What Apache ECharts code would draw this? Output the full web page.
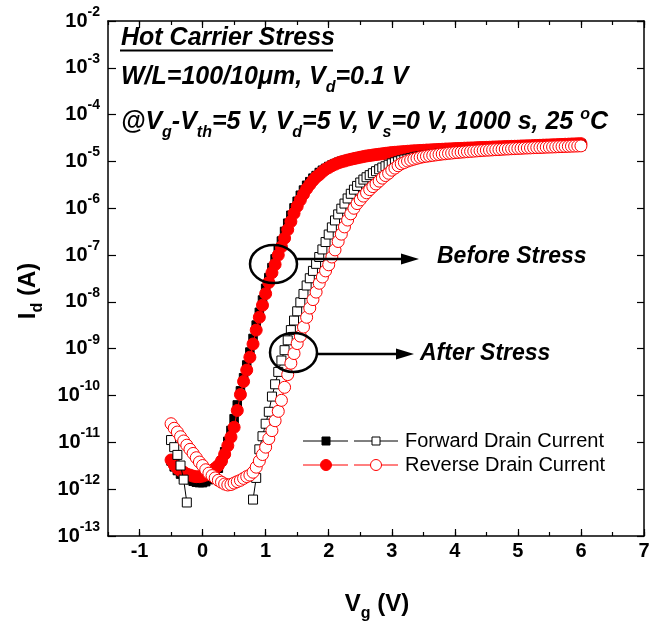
<!DOCTYPE html>
<html>
<head>
<meta charset="utf-8">
<script src="https://cdn.jsdelivr.net/npm/echarts@6/dist/echarts.min.js"></script>
<style>
  html, body { margin: 0; padding: 0; background: #ffffff; }
  #chart { width: 653px; height: 624px; }
</style>
</head>
<body>
<div id="chart"></div>
<script>
// Gate voltage sweep (V)
const gateVoltage = [
  -0.5, -0.45, -0.4, -0.35, -0.3, -0.25, -0.2, -0.15, -0.1, -0.05,
  0, 0.05, 0.1, 0.15, 0.2, 0.25, 0.3, 0.35, 0.4, 0.45,
  0.5, 0.55, 0.6, 0.65, 0.7, 0.75, 0.8, 0.85, 0.9, 0.95,
  1, 1.05, 1.1, 1.15, 1.2, 1.25, 1.3, 1.35, 1.4, 1.45,
  1.5, 1.55, 1.6, 1.65, 1.7, 1.75, 1.8, 1.85, 1.9, 1.95,
  2, 2.05, 2.1, 2.15, 2.2, 2.25, 2.3, 2.35, 2.4, 2.45,
  2.5, 2.55, 2.6, 2.65, 2.7, 2.75, 2.8, 2.85, 2.9, 2.95,
  3, 3.05, 3.1, 3.15, 3.2, 3.25, 3.3, 3.35, 3.4, 3.45,
  3.5, 3.55, 3.6, 3.65, 3.7, 3.75, 3.8, 3.85, 3.9, 3.95,
  4, 4.05, 4.1, 4.15, 4.2, 4.25, 4.3, 4.35, 4.4, 4.45,
  4.5, 4.55, 4.6, 4.65, 4.7, 4.75, 4.8, 4.85, 4.9, 4.95,
  5, 5.05, 5.1, 5.15, 5.2, 5.25, 5.3, 5.35, 5.4, 5.45,
  5.5, 5.55, 5.6, 5.65, 5.7, 5.75, 5.8, 5.85, 5.9, 5.95,
  6
];

// Drain current (A) before stress, forward sweep
const beforeForward = [
  4.0e-12, 3.0e-12, 2.5e-12, 2.1e-12, 1.86e-12, 1.7e-12, 1.6e-12, 1.48e-12, 1.41e-12, 1.38e-12,
  1.38e-12, 1.45e-12, 1.6e-12, 1.8e-12, 2.2e-12, 2.8e-12, 4.0e-12, 6.3e-12, 1.05e-11, 1.8e-11,
  3.2e-11, 6.3e-11, 1.26e-10, 2.4e-10, 4.5e-10, 8.5e-10, 1.66e-9, 3.2e-9, 6.0e-9, 1.1e-8,
  1.95e-8, 3.3e-8, 5.4e-8, 8.3e-8, 1.32e-7, 2.0e-7, 3.2e-7, 4.8e-7, 7.1e-7, 1.02e-6,
  1.41e-6, 1.9e-6, 2.45e-6, 3.1e-6, 3.7e-6, 4.4e-6, 5.0e-6, 5.8e-6, 6.5e-6, 7.1e-6,
  7.8e-6, 8.4e-6, 9.0e-6, 9.6e-6, 1.01e-5, 1.05e-5, 1.10e-5, 1.14e-5, 1.18e-5, 1.22e-5,
  1.26e-5, 1.30e-5, 1.33e-5, 1.36e-5, 1.39e-5, 1.42e-5, 1.45e-5, 1.48e-5, 1.51e-5, 1.54e-5,
  1.56e-5, 1.58e-5, 1.60e-5, 1.62e-5, 1.64e-5, 1.66e-5, 1.68e-5, 1.70e-5, 1.71e-5, 1.73e-5,
  1.74e-5, 1.76e-5, 1.77e-5, 1.79e-5, 1.80e-5, 1.82e-5, 1.83e-5, 1.85e-5, 1.86e-5, 1.87e-5,
  1.89e-5, 1.90e-5, 1.91e-5, 1.93e-5, 1.94e-5, 1.95e-5, 1.96e-5, 1.98e-5, 1.99e-5, 2.00e-5,
  2.01e-5, 2.02e-5, 2.04e-5, 2.05e-5, 2.06e-5, 2.07e-5, 2.09e-5, 2.10e-5, 2.11e-5, 2.12e-5,
  2.13e-5, 2.15e-5, 2.16e-5, 2.17e-5, 2.18e-5, 2.20e-5, 2.21e-5, 2.22e-5, 2.24e-5, 2.25e-5,
  2.26e-5, 2.28e-5, 2.29e-5, 2.31e-5, 2.32e-5, 2.34e-5, 2.35e-5, 2.37e-5, 2.38e-5, 2.40e-5,
  2.41e-5
];

// Drain current (A) before stress, reverse sweep
const beforeReverse = [
  4.2e-12, 3.3e-12, 2.8e-12, 2.5e-12, 2.3e-12, 2.1e-12, 2.0e-12, 1.9e-12, 1.85e-12, 1.85e-12,
  1.9e-12, 2.0e-12, 2.2e-12, 2.5e-12, 2.8e-12, 3.2e-12, 4.0e-12, 5.6e-12, 8.5e-12, 1.3e-11,
  2.1e-11, 4.8e-11, 1.05e-10, 2.0e-10, 3.5e-10, 6.6e-10, 1.26e-9, 2.5e-9, 4.7e-9, 8.5e-9,
  1.5e-8, 2.6e-8, 4.2e-8, 6.3e-8, 1.0e-7, 1.5e-7, 2.3e-7, 3.5e-7, 5.2e-7, 7.8e-7,
  1.1e-6, 1.5e-6, 2.0e-6, 2.6e-6, 3.2e-6, 3.9e-6, 4.6e-6, 5.2e-6, 6.0e-6, 6.8e-6,
  7.4e-6, 8.1e-6, 8.7e-6, 9.3e-6, 9.8e-6, 1.02e-5, 1.07e-5, 1.11e-5, 1.15e-5, 1.19e-5,
  1.23e-5, 1.27e-5, 1.31e-5, 1.34e-5, 1.37e-5, 1.40e-5, 1.43e-5, 1.46e-5, 1.49e-5, 1.52e-5,
  1.55e-5, 1.57e-5, 1.59e-5, 1.61e-5, 1.63e-5, 1.65e-5, 1.67e-5, 1.69e-5, 1.70e-5, 1.72e-5,
  1.73e-5, 1.75e-5, 1.76e-5, 1.78e-5, 1.79e-5, 1.81e-5, 1.82e-5, 1.84e-5, 1.85e-5, 1.86e-5,
  1.88e-5, 1.89e-5, 1.90e-5, 1.92e-5, 1.93e-5, 1.94e-5, 1.95e-5, 1.97e-5, 1.98e-5, 1.99e-5,
  2.00e-5, 2.01e-5, 2.03e-5, 2.04e-5, 2.05e-5, 2.06e-5, 2.08e-5, 2.09e-5, 2.10e-5, 2.11e-5,
  2.12e-5, 2.14e-5, 2.15e-5, 2.16e-5, 2.17e-5, 2.19e-5, 2.20e-5, 2.21e-5, 2.23e-5, 2.24e-5,
  2.25e-5, 2.27e-5, 2.28e-5, 2.30e-5, 2.31e-5, 2.33e-5, 2.34e-5, 2.36e-5, 2.37e-5, 2.39e-5,
  2.40e-5
];

// Drain current (A) after stress, forward sweep (null: below the measurable range)
const afterForward = [
  1.12e-11, 7.9e-12, 5.4e-12, 3.2e-12, 1.6e-12, 5.2e-13, null, null, null, null,
  null, null, null, null, null, null, null, null, null, null,
  null, null, null, null, null, null, 6.0e-13, 1.74e-12, 7.1e-12, 1.35e-11,
  2.5e-11, 4.5e-11, 9.5e-11, 1.74e-10, 3.2e-10, 5.6e-10, 9.3e-10, 1.51e-9, 2.5e-9, 4.0e-9,
  6.3e-9, 9.8e-9, 1.48e-8, 2.24e-8, 3.2e-8, 4.6e-8, 6.5e-8, 9.1e-8, 1.32e-7, 1.9e-7,
  2.75e-7, 3.9e-7, 5.5e-7, 7.4e-7, 9.8e-7, 1.26e-6, 1.62e-6, 2.04e-6, 2.5e-6, 3.0e-6,
  3.55e-6, 4.1e-6, 4.6e-6, 5.1e-6, 5.6e-6, 6.2e-6, 6.8e-6, 7.4e-6, 7.9e-6, 8.5e-6,
  9.1e-6, 9.6e-6, 1.01e-5, 1.06e-5, 1.10e-5, 1.14e-5, 1.18e-5, 1.22e-5, 1.26e-5, 1.29e-5,
  1.32e-5, 1.35e-5, 1.38e-5, 1.41e-5, 1.44e-5, 1.47e-5, 1.49e-5, 1.52e-5, 1.54e-5, 1.56e-5,
  1.58e-5, 1.60e-5, 1.62e-5, 1.64e-5, 1.66e-5, 1.68e-5, 1.70e-5, 1.72e-5, 1.74e-5, 1.75e-5,
  1.77e-5, 1.79e-5, 1.80e-5, 1.82e-5, 1.84e-5, 1.85e-5, 1.87e-5, 1.88e-5, 1.90e-5, 1.91e-5,
  1.93e-5, 1.94e-5, 1.95e-5, 1.97e-5, 1.98e-5, 1.99e-5, 2.01e-5, 2.02e-5, 2.03e-5, 2.04e-5,
  2.06e-5, 2.07e-5, 2.08e-5, 2.09e-5, 2.10e-5, 2.12e-5, 2.13e-5, 2.14e-5, 2.15e-5, 2.16e-5,
  2.17e-5
];

// Drain current (A) after stress, reverse sweep
const afterReverse = [
  2.5e-11, 2.0e-11, 1.66e-11, 1.32e-11, 1.07e-11, 8.7e-12, 7.1e-12, 5.8e-12, 4.7e-12, 3.8e-12,
  3.2e-12, 2.6e-12, 2.2e-12, 1.95e-12, 1.74e-12, 1.55e-12, 1.41e-12, 1.29e-12, 1.23e-12, 1.26e-12,
  1.35e-12, 1.45e-12, 1.55e-12, 1.7e-12, 1.86e-12, 2.0e-12, 2.3e-12, 2.95e-12, 4.0e-12, 5.5e-12,
  7.9e-12, 1.2e-11, 1.78e-11, 2.9e-11, 4.6e-11, 7.9e-11, 1.5e-10, 2.8e-10, 4.9e-10, 7.9e-10,
  1.29e-9, 1.86e-9, 2.9e-9, 4.7e-9, 7.4e-9, 1.12e-8, 1.62e-8, 2.5e-8, 3.4e-8, 4.6e-8,
  6.2e-8, 9.1e-8, 1.29e-7, 1.95e-7, 2.8e-7, 4.0e-7, 5.6e-7, 7.6e-7, 1.0e-6, 1.26e-6,
  1.51e-6, 1.82e-6, 2.14e-6, 2.5e-6, 2.9e-6, 3.3e-6, 3.8e-6, 4.4e-6, 5.0e-6, 5.6e-6,
  6.5e-6, 7.2e-6, 8.1e-6, 8.9e-6, 9.5e-6, 1.02e-5, 1.07e-5, 1.12e-5, 1.17e-5, 1.22e-5,
  1.26e-5, 1.29e-5, 1.32e-5, 1.35e-5, 1.38e-5, 1.41e-5, 1.44e-5, 1.46e-5, 1.49e-5, 1.51e-5,
  1.54e-5, 1.56e-5, 1.58e-5, 1.60e-5, 1.62e-5, 1.64e-5, 1.66e-5, 1.68e-5, 1.70e-5, 1.72e-5,
  1.74e-5, 1.75e-5, 1.77e-5, 1.79e-5, 1.80e-5, 1.82e-5, 1.84e-5, 1.85e-5, 1.87e-5, 1.88e-5,
  1.90e-5, 1.91e-5, 1.93e-5, 1.94e-5, 1.95e-5, 1.97e-5, 1.98e-5, 1.99e-5, 2.00e-5, 2.02e-5,
  2.03e-5, 2.04e-5, 2.05e-5, 2.07e-5, 2.08e-5, 2.09e-5, 2.10e-5, 2.12e-5, 2.13e-5, 2.14e-5,
  2.15e-5
];

// Axis ranges and labels
const xRange = [-1.5, 7];
const xMajorRange = [-1, 7];
const yRange = [1e-13, 1e-2];
const legendLabels = ['Forward Drain Current', 'Reverse Drain Current'];

const FAMILY = '"Liberation Sans", Arial, Helvetica, sans-serif';
const RED = '#ff0000';

function pairs(values) {
  return gateVoltage.map((v, i) => [v, values[i] == null ? '-' : values[i]]);
}

// plot box (pixels)
const box = { left: 108, right: 9, top: 21, bottom: 88 };
const plotW = 653 - box.left - box.right;
const majorOffset = plotW * (xMajorRange[0] - xRange[0]) / (xRange[1] - xRange[0]);

const chart = echarts.init(document.getElementById('chart'), null, { renderer: 'canvas' });

const axisLineStyle = { color: '#000', width: 1.5 };

function lineSeries(name, values, symbol, size, fill, stroke, lineColor, z) {
  return {
    name: name,
    type: 'line',
    xAxisIndex: 0,
    yAxisIndex: 0,
    data: pairs(values),
    symbol: symbol,
    symbolSize: size,
    showAllSymbol: true,
    connectNulls: false,
    itemStyle: { color: fill, borderColor: stroke, borderWidth: 1 },
    lineStyle: { color: lineColor, width: 1 },
    emphasis: { disabled: true },
    z: z
  };
}

// text helpers
const hdr = { fontFamily: FAMILY, fontSize: 25, fontWeight: 'bold', fontStyle: 'italic', fill: '#000', verticalAlign: 'middle' };
const hdrSub = { fontFamily: FAMILY, fontSize: 16, fontWeight: 'bold', fontStyle: 'italic', fill: '#000', verticalAlign: 'middle', padding: [22, 0, 0, 0] };
const hdrSup = { fontFamily: FAMILY, fontSize: 16, fontWeight: 'bold', fontStyle: 'italic', fill: '#000', verticalAlign: 'middle', padding: [0, 0, 14, 0] };
const callout = Object.assign({}, hdr, { fontSize: 23 });

const titleMain = { fontFamily: FAMILY, fontSize: 24, fontWeight: 'bold', fill: '#000', verticalAlign: 'middle' };
const titleSub = { fontFamily: FAMILY, fontSize: 16, fontWeight: 'bold', fill: '#000', verticalAlign: 'middle', padding: [20, 0, 0, 0] };

function legendRow(y, color, symbol, text) {
  const items = [
    { type: 'line', shape: { x1: 303, y1: y, x2: 348, y2: y }, style: { stroke: color, lineWidth: 1 } },
    { type: 'line', shape: { x1: 354, y1: y, x2: 398, y2: y }, style: { stroke: color, lineWidth: 1 } },
    { type: 'text', x: 405, y: y, style: { text: text, font: '20px ' + FAMILY, fill: '#000', textAlign: 'left', textVerticalAlign: 'middle' } }
  ];
  if (symbol === 'rect') {
    items.push({ type: 'rect', shape: { x: 322, y: y - 4, width: 8, height: 8 }, style: { fill: '#000', stroke: '#000', lineWidth: 1 } });
    items.push({ type: 'rect', shape: { x: 372, y: y - 4, width: 8, height: 8 }, style: { fill: '#fff', stroke: '#000', lineWidth: 1 } });
  } else {
    items.push({ type: 'circle', shape: { cx: 326, cy: y, r: 5.5 }, style: { fill: RED, stroke: RED, lineWidth: 1 } });
    items.push({ type: 'circle', shape: { cx: 376, cy: y, r: 5.5 }, style: { fill: '#fff', stroke: RED, lineWidth: 1 } });
  }
  return items;
}

const option = {
  animation: false,
  backgroundColor: '#ffffff',
  grid: [
    { left: box.left, right: box.right, top: box.top, bottom: box.bottom, containLabel: false },
    { left: box.left + majorOffset, right: box.right, top: box.top, bottom: box.bottom, containLabel: false }
  ],
  xAxis: [
    { // frame bottom + half-volt ticks
      type: 'value', gridIndex: 0, position: 'bottom', min: xRange[0], max: xRange[1], interval: 0.5,
      axisLine: { show: true, onZero: false, lineStyle: axisLineStyle },
      axisTick: { show: true, inside: true, length: 4, lineStyle: { color: '#000', width: 1.2 } },
      axisLabel: { show: false },
      splitLine: { show: false }
    },
    { // integer ticks and labels
      type: 'value', gridIndex: 1, position: 'bottom', min: xMajorRange[0], max: xMajorRange[1], interval: 1,
      axisLine: { show: false, onZero: false },
      axisTick: { show: true, inside: true, length: 7, lineStyle: { color: '#000', width: 1.2 } },
      axisLabel: { show: true, margin: 5, color: '#000', fontFamily: FAMILY, fontSize: 20, fontWeight: 'bold' },
      splitLine: { show: false }
    },
    { // frame top
      type: 'value', gridIndex: 0, position: 'top', min: xRange[0], max: xRange[1], interval: 0.5,
      axisLine: { show: true, onZero: false, lineStyle: axisLineStyle },
      axisTick: { show: true, inside: true, length: 4, lineStyle: { color: '#000', width: 1.2 } },
      axisLabel: { show: false },
      splitLine: { show: false }
    },
    {
      type: 'value', gridIndex: 1, position: 'top', min: xMajorRange[0], max: xMajorRange[1], interval: 1,
      axisLine: { show: false, onZero: false },
      axisTick: { show: true, inside: true, length: 7, lineStyle: { color: '#000', width: 1.2 } },
      axisLabel: { show: false },
      splitLine: { show: false }
    }
  ],
  yAxis: [
    {
      type: 'log', logBase: 10, gridIndex: 0, position: 'left', min: yRange[0], max: yRange[1], interval: 1,
      axisLine: { show: true, onZero: false, lineStyle: axisLineStyle },
      axisTick: { show: true, inside: true, length: 8, lineStyle: { color: '#000', width: 1.2 } },
      axisLabel: {
        show: true, margin: 8, color: '#000',
        formatter: function (v) {
          const e = Math.round(Math.log10(v));
          return '{b|10}{s|' + e + '}';
        },
        rich: {
          b: { fontFamily: FAMILY, fontSize: 20, fontWeight: 'bold', color: '#000', verticalAlign: 'middle' },
          s: { fontFamily: FAMILY, fontSize: 14, fontWeight: 'bold', color: '#000', verticalAlign: 'middle', padding: [0, 0, 18, 0] }
        }
      },
      splitLine: { show: false }
    },
    {
      type: 'log', logBase: 10, gridIndex: 0, position: 'right', min: yRange[0], max: yRange[1], interval: 1,
      axisLine: { show: true, onZero: false, lineStyle: axisLineStyle },
      axisTick: { show: true, inside: true, length: 7, lineStyle: { color: '#000', width: 1.2 } },
      axisLabel: { show: false },
      splitLine: { show: false }
    },
    { type: 'value', gridIndex: 1, show: false, min: 0, max: 1 }
  ],
  series: [
    lineSeries('Before stress, forward', beforeForward, 'rect', 8.5, '#000', '#000', '#000', 2),
    lineSeries('Before stress, reverse', beforeReverse, 'circle', 12, RED, RED, RED, 3),
    lineSeries('After stress, forward', afterForward, 'rect', 9, '#fff', '#000', '#000', 4),
    lineSeries('After stress, reverse', afterReverse, 'circle', 12, '#fff', RED, RED, 5)
  ],
  graphic: [
    // header
    { type: 'text', x: 121, y: 38, z: 10,
      style: { text: '{m|Hot Carrier Stress}', rich: { m: hdr }, textAlign: 'left', textVerticalAlign: 'middle' } },
    { type: 'line', z: 10, shape: { x1: 120, y1: 50.5, x2: 333, y2: 50.5 }, style: { stroke: '#000', lineWidth: 2 } },
    { type: 'text', x: 121, y: 77, z: 10,
      style: { text: '{m|W/L=100/10\u03bcm, V}{s|d}{m|=0.1 V}', rich: { m: hdr, s: hdrSub }, textAlign: 'left', textVerticalAlign: 'middle' } },
    { type: 'text', x: 121, y: 122, z: 10,
      style: { text: '{m|@V}{s|g}{m|-V}{s|th}{m|=5 V, V}{s|d}{m|=5 V, V}{s|s}{m|=0 V, 1000 s, 25 }{p|o}{m|C}',
        rich: { m: hdr, s: hdrSub, p: hdrSup }, textAlign: 'left', textVerticalAlign: 'middle' } },

    // callouts
    { type: 'ellipse', z: 10, shape: { cx: 273.5, cy: 264, rx: 23.5, ry: 19 }, style: { fill: 'none', stroke: '#000', lineWidth: 2.5 } },
    { type: 'line', z: 10, shape: { x1: 297, y1: 259, x2: 404, y2: 259 }, style: { stroke: '#000', lineWidth: 2.5 } },
    { type: 'polygon', z: 10, shape: { points: [[419, 259], [401, 253.5], [401, 264.5]] }, style: { fill: '#000' } },
    { type: 'text', x: 437, y: 257, z: 10,
      style: { text: '{m|Before Stress}', rich: { m: callout }, textAlign: 'left', textVerticalAlign: 'middle' } },

    { type: 'ellipse', z: 10, shape: { cx: 293.5, cy: 352.5, rx: 23.5, ry: 19.5 }, style: { fill: 'none', stroke: '#000', lineWidth: 2.5 } },
    { type: 'line', z: 10, shape: { x1: 317, y1: 354, x2: 399, y2: 354 }, style: { stroke: '#000', lineWidth: 2.5 } },
    { type: 'polygon', z: 10, shape: { points: [[414, 354], [396, 348.5], [396, 359.5]] }, style: { fill: '#000' } },
    { type: 'text', x: 420, y: 354, z: 10,
      style: { text: '{m|After Stress}', rich: { m: callout }, textAlign: 'left', textVerticalAlign: 'middle' } },

    // axis titles
    { type: 'text', x: 28, y: 291, rotation: Math.PI / 2, z: 10,
      style: { text: '{m|I}{s|d}{m| (A)}', rich: { m: titleMain, s: titleSub }, textAlign: 'center', textVerticalAlign: 'middle' } },
    { type: 'text', x: 377, y: 604, z: 10,
      style: { text: '{m|V}{s|g}{m| (V)}', rich: { m: titleMain, s: titleSub }, textAlign: 'center', textVerticalAlign: 'middle' } }
  ]
    .concat(legendRow(441, '#000', 'rect', legendLabels[0]))
    .concat(legendRow(465, RED, 'circle', legendLabels[1]))
};

chart.setOption(option);
</script>
</body>
</html>
